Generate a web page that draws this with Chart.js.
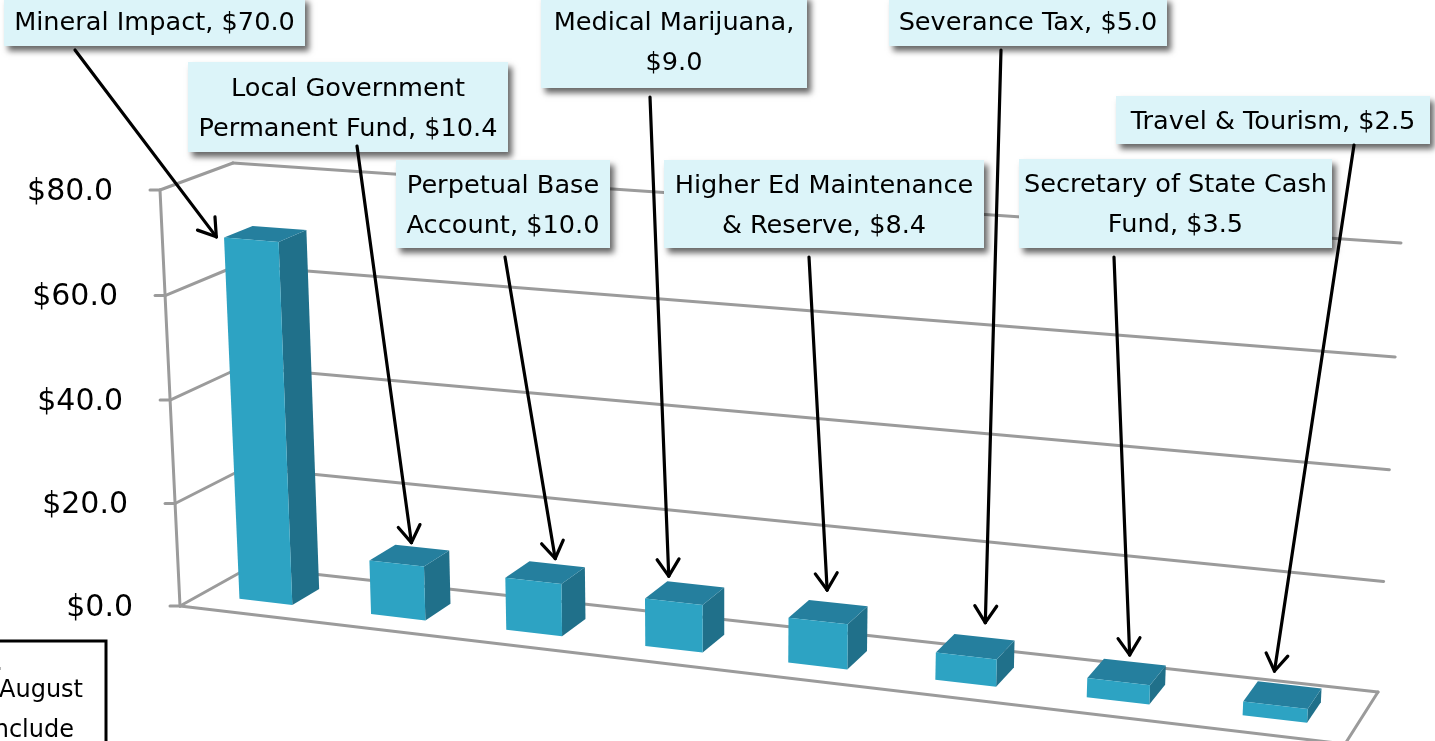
<!DOCTYPE html>
<html>
<head>
<meta charset="utf-8">
<style>
  html, body { margin: 0; padding: 0; background: #fff; overflow: hidden; }
  canvas { display: block; }
</style>
</head>
<body>
<canvas id="myChart" width="1435" height="741"></canvas>
<script src="https://cdn.jsdelivr.net/npm/chart.js@4"></script>
<script>
const categories = [
    'Mineral Impact',
    'Local Government Permanent Fund',
    'Perpetual Base Account',
    'Medical Marijuana',
    'Higher Ed Maintenance & Reserve',
    'Severance Tax',
    'Secretary of State Cash Fund',
    'Travel & Tourism'
];
const values = [70.0, 10.4, 10.0, 9.0, 8.4, 5.0, 3.5, 2.5];
const tickValues = [0, 20, 40, 60, 80];

// callout boxes: left, top, right, bottom
const boxes = [
    [4, -3, 305, 46],
    [188, 62, 508, 152],
    [396, 160, 610, 248],
    [541, -5, 807, 88],
    [664, 160, 984, 248],
    [889, -3, 1167, 46],
    [1019, 159, 1332, 248],
    [1116, 96, 1430, 144]
];
const arrowStarts = [[75, 50], [357, 146], [505, 257], [650, 97], [809, 257], [1001, 50], [1114, 257], [1354, 145]];
// arrow tip relative to the middle of the bar's top face
const arrowTips = [[-49, 3], [2, -13], [10, -14], [-16, -17], [-1, -22], [10, -24], [3, -17], [-8, -24]];

const FONT = '"DejaVu Sans", sans-serif';
const GRID = '#9b9b9b';

// corners of the 3D box on screen
const floorCorners = { fl: [180, 606], fr: [1345, 744], bl: [250, 567], br: [1378, 692] };
const topCorners = { fl: [160, 190], fr: [1369, 284], bl: [233, 163], br: [1401, 243] };
const barDepth = [0.3, 0.7];

function lerp(a, b, t) {
    return [a[0] + (b[0] - a[0]) * t, a[1] + (b[1] - a[1]) * t];
}

// u across, v up, d back, all 0..1
function project(u, v, d) {
    const uu = u / (1 + 0.12 * (1 - u));
    const vv = v / (1 + 0.02 * (1 - v));
    const low = lerp(lerp(floorCorners.fl, floorCorners.fr, uu), lerp(floorCorners.bl, floorCorners.br, uu), d);
    const high = lerp(lerp(topCorners.fl, topCorners.fr, uu), lerp(topCorners.bl, topCorners.br, uu), d);
    return lerp(low, high, vv);
}

function line(ctx, a, b) {
    ctx.beginPath();
    ctx.moveTo(a[0], a[1]);
    ctx.lineTo(b[0], b[1]);
    ctx.stroke();
}

function face(ctx, pts, color) {
    ctx.fillStyle = color;
    ctx.beginPath();
    pts.forEach((p, i) => i ? ctx.lineTo(p[0], p[1]) : ctx.moveTo(p[0], p[1]));
    ctx.closePath();
    ctx.fill();
}

function wrapText(ctx, text, width) {
    const lines = [];
    let cur = '';
    text.split(' ').forEach(word => {
        const next = cur ? cur + ' ' + word : word;
        if (cur && ctx.measureText(next).width > width) {
            lines.push(cur);
            cur = word;
        } else {
            cur = next;
        }
    });
    lines.push(cur);
    return lines;
}

function barUV(chart, bar) {
    const area = chart.chartArea;
    return {
        u0: (bar.x - bar.width / 2 - area.left) / area.width,
        u1: (bar.x + bar.width / 2 - area.left) / area.width,
        v: (area.bottom - bar.y) / area.height
    };
}

const walls3d = {
    id: 'walls3d',
    beforeDatasetDraw(chart) {
        const ctx = chart.ctx;
        const yScale = chart.scales.y;
        const area = chart.chartArea;
        ctx.save();
        ctx.strokeStyle = GRID;
        ctx.lineWidth = 3;
        ctx.lineCap = 'round';
        ctx.lineJoin = 'round';

        yScale.ticks.forEach(tick => {
            const v = (area.bottom - yScale.getPixelForValue(tick.value)) / area.height;
            const front = project(0, v, 0);
            line(ctx, [front[0] - 10, front[1]], front);
            line(ctx, front, project(0, v, 1));
            line(ctx, project(0, v, 1), project(1, v, 1));
            ctx.fillStyle = '#000';
            ctx.font = '30px ' + FONT;
            ctx.textAlign = 'right';
            ctx.textBaseline = 'middle';
            ctx.fillText(tick.label, front[0] - 47, front[1] + 2);
        });
        line(ctx, project(0, 0, 0), project(0, 1, 0));
        line(ctx, project(0, 0, 0), project(1, 0, 0));
        line(ctx, project(1, 0, 0), project(1, 0, 1));

        chart.getDatasetMeta(0).data.forEach(bar => {
            const { u0, u1, v } = barUV(chart, bar);
            const [d0, d1] = barDepth;
            face(ctx, [project(u1, 0, d0), project(u1, 0, d1), project(u1, v, d1), project(u1, v, d0)], '#20708a');
            face(ctx, [project(u0, v, d0), project(u1, v, d0), project(u1, v, d1), project(u0, v, d1)], '#257f9e');
            face(ctx, [project(u0, 0, d0), project(u1, 0, d0), project(u1, v, d0), project(u0, v, d0)], '#2da3c3');
        });
        ctx.restore();
        return false;
    },
    afterDatasetsDraw(chart) {
        const ctx = chart.ctx;
        ctx.save();

        // note box cut off at the corner
        ctx.font = '24px ' + FONT;
        ctx.strokeStyle = '#000';
        ctx.lineWidth = 3;
        ctx.strokeRect(-10, 641, 116, 120);
        ctx.fillStyle = '#000';
        ctx.textAlign = 'right';
        ctx.textBaseline = 'alphabetic';
        ctx.fillText('.', 3, 670);
        ctx.fillText('August', 83, 697);
        ctx.fillText('include', 74, 737);

        ctx.font = '25.6px ' + FONT;
        boxes.forEach((b, i) => {
            const w = b[2] - b[0];
            const h = b[3] - b[1];
            ctx.save();
            ctx.shadowColor = 'rgba(0,0,0,0.6)';
            ctx.shadowBlur = 6;
            ctx.shadowOffsetX = 4;
            ctx.shadowOffsetY = 5;
            ctx.fillStyle = '#dcf4f9';
            ctx.fillRect(b[0], b[1], w, h);
            ctx.restore();

            const label = categories[i] + ', $' + values[i].toFixed(1);
            const lines = wrapText(ctx, label, w - 6);
            const mid = (b[1] + b[3]) / 2 + 2;
            ctx.fillStyle = '#000';
            ctx.textAlign = 'center';
            ctx.textBaseline = 'middle';
            lines.forEach((text, n) => {
                ctx.fillText(text, (b[0] + b[2]) / 2, mid + (n - (lines.length - 1) / 2) * 40);
            });
        });

        ctx.strokeStyle = '#000';
        ctx.lineWidth = 3.2;
        ctx.lineCap = 'round';
        chart.getDatasetMeta(0).data.forEach((bar, i) => {
            const { u0, u1, v } = barUV(chart, bar);
            const mid = project((u0 + u1) / 2, v, (barDepth[0] + barDepth[1]) / 2);
            const tip = [mid[0] + arrowTips[i][0], mid[1] + arrowTips[i][1]];
            const from = arrowStarts[i];
            line(ctx, from, tip);
            const ang = Math.atan2(tip[1] - from[1], tip[0] - from[0]);
            [-0.58, 0.58].forEach(off => {
                line(ctx, tip, [tip[0] - 20 * Math.cos(ang + off), tip[1] - 20 * Math.sin(ang + off)]);
            });
        });
        ctx.restore();
    }
};

const myChart = new Chart(document.getElementById('myChart'), {
    type: 'bar',
    data: {
        labels: categories,
        datasets: [{
            label: 'Balance',
            data: values,
            backgroundColor: '#2da3c3',
            barPercentage: 0.405,
            categoryPercentage: 1
        }]
    },
    options: {
        responsive: false,
        animation: false,
        layout: { padding: { left: 160, right: 90, top: 190, bottom: 135 } },
        plugins: { legend: { display: false }, tooltip: { enabled: false } },
        scales: {
            x: { display: false },
            y: {
                display: false,
                min: 0,
                max: 80,
                afterBuildTicks: scale => { scale.ticks = tickValues.map(value => ({ value })); },
                ticks: { callback: value => '$' + value.toFixed(1) }
            }
        }
    },
    plugins: [walls3d]
});
</script>
</body>
</html>
